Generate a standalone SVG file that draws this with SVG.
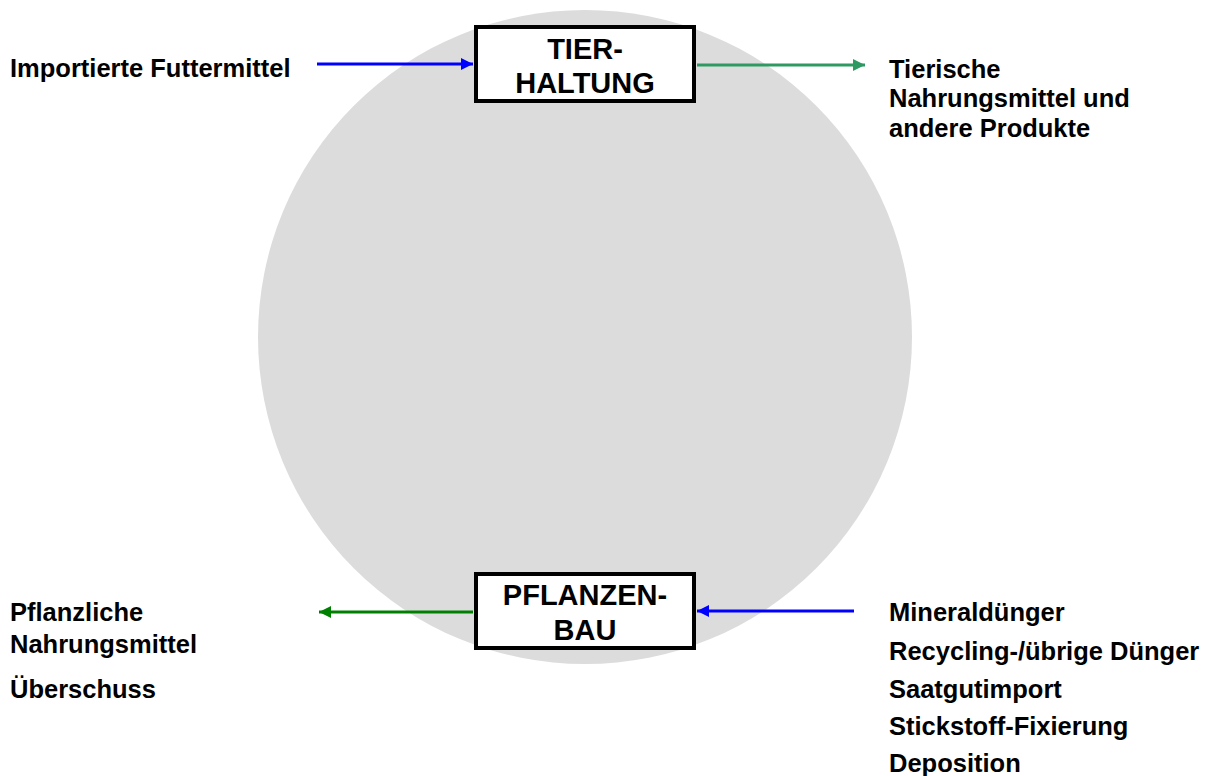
<svg xmlns="http://www.w3.org/2000/svg" width="1208" height="776" viewBox="0 0 1208 776">
<style>
.lbl{font-family:"Liberation Sans",Arial,sans-serif;font-weight:bold;font-size:25.5px;fill:#000}
.box{fill:#fff;stroke:#000;stroke-width:4}
.bt{font-family:"Liberation Sans",Arial,sans-serif;font-weight:bold;font-size:29px;fill:#000;text-anchor:middle}
.ln{stroke-width:3;fill:none}
</style>
<defs>
<marker id="ab" viewBox="0 0 10 10" refX="10" refY="5" markerWidth="4" markerHeight="4" orient="auto" markerUnits="strokeWidth"><path d="M0,0L10,5L0,10z" fill="#0000ff"/></marker>
<marker id="ag" viewBox="0 0 10 10" refX="10" refY="5" markerWidth="4" markerHeight="4" orient="auto" markerUnits="strokeWidth"><path d="M0,0L10,5L0,10z" fill="#2e9a62"/></marker>
<marker id="ag2" viewBox="0 0 10 10" refX="10" refY="5" markerWidth="4" markerHeight="4" orient="auto" markerUnits="strokeWidth"><path d="M0,0L10,5L0,10z" fill="#008000"/></marker>
</defs>
<circle cx="585" cy="337" r="327" fill="#dcdcdc"/>
<g id="connectors">
<line class="ln" x1="317" y1="64" x2="473" y2="64" stroke="#0000ff" marker-end="url(#ab)"/>
<line class="ln" x1="697" y1="65" x2="865" y2="65" stroke="#2e9a62" marker-end="url(#ag)"/>
<line class="ln" x1="473" y1="612" x2="319" y2="612" stroke="#008000" marker-end="url(#ag2)"/>
<line class="ln" x1="854" y1="611" x2="697" y2="611" stroke="#0000ff" marker-end="url(#ab)"/>
</g>
<g id="tierhaltung">
<rect class="box" x="476" y="27" width="218" height="74"/>
<text class="bt" x="585" y="59">TIER-</text>
<text class="bt" x="585" y="93">HALTUNG</text>
</g>
<g id="pflanzenbau">
<rect class="box" x="476" y="574" width="218" height="74"/>
<text class="bt" x="585" y="605">PFLANZEN-</text>
<text class="bt" x="585" y="640">BAU</text>
</g>
<g id="importierte">
<text class="lbl" x="10" y="77">Importierte Futtermittel</text>
</g>
<g id="tierische">
<text class="lbl" x="889" y="78">Tierische</text>
<text class="lbl" x="889" y="107">Nahrungsmittel und</text>
<text class="lbl" x="889" y="137">andere Produkte</text>
</g>
<g id="pflanzliche">
<text class="lbl" x="10" y="621">Pflanzliche</text>
<text class="lbl" x="10" y="653">Nahrungsmittel</text>
<text class="lbl" x="10" y="698">Überschuss</text>
</g>
<g id="inputs">
<text class="lbl" x="889" y="621">Mineraldünger</text>
<text class="lbl" x="889" y="660">Recycling-/übrige Dünger</text>
<text class="lbl" x="889" y="698">Saatgutimport</text>
<text class="lbl" x="889" y="735">Stickstoff-Fixierung</text>
<text class="lbl" x="889" y="772">Deposition</text>
</g>
</svg>
